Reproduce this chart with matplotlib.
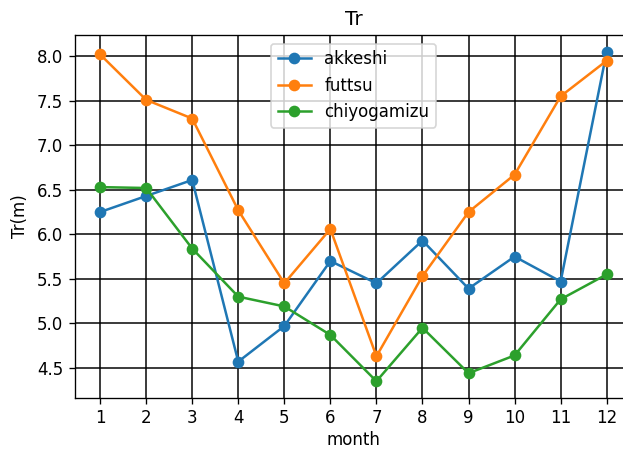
import numpy as np
import matplotlib
matplotlib.use("Agg")
import matplotlib.pyplot as plt

months = list(range(1, 13))
akkeshi = [6.25, 6.43, 6.61, 4.57, 4.97, 5.70, 5.45, 5.93, 5.39, 5.75, 5.47, 8.05]
futtsu = [8.02, 7.51, 7.30, 6.27, 5.45, 6.06, 4.63, 5.53, 6.25, 6.67, 7.55, 7.95]
chiyogamizu = [6.53, 6.52, 5.84, 5.30, 5.19, 4.87, 4.35, 4.95, 4.44, 4.64, 5.27, 5.55]

DPI = 120
fig = plt.figure(figsize=(623 / DPI, 450 / DPI), dpi=DPI)
# axes runs slightly past the right edge, as in the reference
ax = fig.add_axes([0.12, 0.1162, 0.8945, 0.8054])

ax.plot(months, akkeshi, marker="o", label="akkeshi")
ax.plot(months, futtsu, marker="o", label="futtsu")
ax.plot(months, chiyogamizu, marker="o", label="chiyogamizu")

ax.set_xticks(months)
ax.grid(True, color="black", linewidth=0.9)
ax.set_axisbelow(True)
ax.set_title("Tr")
ax.set_xlabel("month", labelpad=2)
ax.set_ylabel("Tr(m)", labelpad=5)
ax.legend(loc="upper center")

fig.savefig("out.png", dpi=DPI)
